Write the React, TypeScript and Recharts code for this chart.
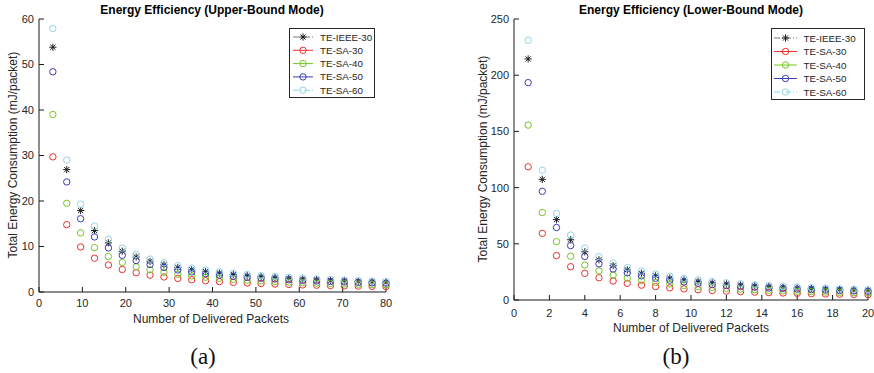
import React from "react";
import { ScatterChart, Scatter, XAxis, YAxis, Legend } from "recharts";

const FONT = '"Liberation Sans", Arial, Helvetica, sans-serif';
const INK = "#262626";

// (a) upper-bound mode
const upperX = [
  3.2, 6.4, 9.6, 12.8, 16, 19.2, 22.4, 25.6, 28.8, 32, 35.2, 38.4, 41.6, 44.8,
  48, 51.2, 54.4, 57.6, 60.8, 64, 67.2, 70.4, 73.6, 76.8, 80,
];
const upperIeee30 = [
  53.8, 26.9, 17.9, 13.5, 10.8, 8.97, 7.69, 6.73, 5.98, 5.38, 4.89, 4.48, 4.14,
  3.84, 3.59, 3.36, 3.16, 2.99, 2.83, 2.69, 2.56, 2.45, 2.34, 2.24, 2.15,
];
const upperSa30 = [
  29.7, 14.8, 9.9, 7.43, 5.94, 4.95, 4.24, 3.71, 3.3, 2.97, 2.7, 2.48, 2.28,
  2.12, 1.98, 1.86, 1.75, 1.65, 1.56, 1.49, 1.41, 1.35, 1.29, 1.24, 1.19,
];
const upperSa40 = [
  39, 19.5, 13, 9.75, 7.8, 6.5, 5.57, 4.88, 4.33, 3.9, 3.55, 3.25, 3.0, 2.79,
  2.6, 2.44, 2.29, 2.17, 2.05, 1.95, 1.86, 1.77, 1.7, 1.63, 1.56,
];
const upperSa50 = [
  48.4, 24.2, 16.1, 12.1, 9.68, 8.07, 6.91, 6.05, 5.38, 4.84, 4.4, 4.03, 3.72,
  3.46, 3.23, 3.03, 2.85, 2.69, 2.55, 2.42, 2.3, 2.2, 2.1, 2.02, 1.94,
];
const upperSa60 = [
  57.9, 29, 19.3, 14.5, 11.6, 9.65, 8.27, 7.24, 6.43, 5.79, 5.26, 4.83, 4.45,
  4.14, 3.86, 3.62, 3.41, 3.22, 3.05, 2.9, 2.76, 2.63, 2.52, 2.41, 2.32,
];

// (b) lower-bound mode
const lowerX = [
  0.8, 1.6, 2.4, 3.2, 4, 4.8, 5.6, 6.4, 7.2, 8, 8.8, 9.6, 10.4, 11.2, 12, 12.8,
  13.6, 14.4, 15.2, 16, 16.8, 17.6, 18.4, 19.2, 20,
];
const lowerIeee30 = [
  214.5, 107.3, 71.5, 53.6, 42.9, 35.8, 30.6, 26.8, 23.8, 21.5, 19.5, 17.9,
  16.5, 15.3, 14.3, 13.4, 12.6, 11.9, 11.3, 10.7, 10.2, 9.75, 9.33, 8.94, 8.58,
];
const lowerSa30 = [
  118.5, 59.3, 39.5, 29.6, 23.7, 19.8, 16.9, 14.8, 13.2, 11.9, 10.8, 9.88, 9.12,
  8.46, 7.9, 7.41, 6.97, 6.58, 6.24, 5.93, 5.64, 5.39, 5.15, 4.94, 4.74,
];
const lowerSa40 = [
  155.6, 77.8, 51.9, 38.9, 31.1, 25.9, 22.2, 19.5, 17.3, 15.6, 14.2, 13.0,
  12.0, 11.1, 10.4, 9.73, 9.15, 8.64, 8.19, 7.78, 7.41, 7.07, 6.77, 6.48, 6.22,
];
const lowerSa50 = [
  193.4, 96.7, 64.5, 48.4, 38.7, 32.2, 27.6, 24.2, 21.5, 19.3, 17.6, 16.1, 14.9,
  13.8, 12.9, 12.1, 11.4, 10.7, 10.2, 9.67, 9.21, 8.79, 8.41, 8.06, 7.74,
];
const lowerSa60 = [
  231, 115.5, 77, 57.8, 46.2, 38.5, 33, 28.9, 25.7, 23.1, 21, 19.3, 17.8, 16.5,
  15.4, 14.4, 13.6, 12.8, 12.2, 11.6, 11, 10.5, 10.0, 9.63, 9.24,
];

const upperXTicks = [0, 10, 20, 30, 40, 50, 60, 70, 80];
const upperYTicks = [0, 10, 20, 30, 40, 50, 60];
const lowerXTicks = [0, 2, 4, 6, 8, 10, 12, 14, 16, 18, 20];
const lowerYTicks = [0, 50, 100, 150, 200, 250];

const seriesNames = ["TE-IEEE-30", "TE-SA-30", "TE-SA-40", "TE-SA-50", "TE-SA-60"];
const seriesColors = ["#1e1e1e", "#ec3030", "#72c820", "#3c3cb8", "#8fd5ea"];
const legendLineColors = ["#7a7a7a", "#ec3030", "#72c820", "#3c3cb8", "#8fd5ea"];
const legendDash = ["6 2 1 2", undefined, undefined, undefined, "6 2 1 2"];

const toPoints = (xs: number[], ys: number[]) => xs.map((x, i) => ({ x, y: ys[i] }));

function StarMark({ cx, cy, color }: { cx: number; cy: number; color: string }) {
  const r = 3.6;
  const d = 2.6;
  return (
    <g stroke={color} strokeWidth={1}>
      <line x1={cx - r} y1={cy} x2={cx + r} y2={cy} />
      <line x1={cx} y1={cy - r} x2={cx} y2={cy + r} />
      <line x1={cx - d} y1={cy - d} x2={cx + d} y2={cy + d} />
      <line x1={cx - d} y1={cy + d} x2={cx + d} y2={cy - d} />
    </g>
  );
}

function mark(i: number, cx: number, cy: number) {
  if (i === 0) return <StarMark cx={cx} cy={cy} color={seriesColors[0]} />;
  return <circle cx={cx} cy={cy} r={3.2} fill="none" stroke={seriesColors[i]} strokeWidth={1} />;
}

// top and right axes only carry the inward tick marks of the box
const noLabel = () => <g />;

function LegendBox(p: {
  w: number;
  h: number;
  rowStart: number;
  rowStep: number;
  lineX1: number;
  lineX2: number;
  textX: number;
}) {
  const markX = (p.lineX1 + p.lineX2) / 2;
  return (
    <svg width={p.w} height={p.h} style={{ display: "block" }}>
      <rect x={0.5} y={0.5} width={p.w - 1} height={p.h - 1} fill="#fff" stroke={INK} />
      {seriesNames.map((name, i) => {
        const y = p.rowStart + i * p.rowStep;
        return (
          <g key={name}>
            <line
              x1={p.lineX1}
              x2={p.lineX2}
              y1={y}
              y2={y}
              stroke={legendLineColors[i]}
              strokeDasharray={legendDash[i]}
            />
            {mark(i, markX, y)}
            <text
              x={p.textX}
              y={y}
              dominantBaseline="central"
              fontSize={9.8}
              fontFamily={FONT}
              fill={INK}
            >
              {name}
            </text>
          </g>
        );
      })}
    </svg>
  );
}

type PanelProps = {
  left: number;
  xs: number[];
  ys: number[][];
  xMax: number;
  yMax: number;
  xTicks: number[];
  yTicks: number[];
  margin: { top: number; right: number; bottom: number; left: number };
  yAxisWidth: number;
  xTickMargin: number;
  legendAt: { left: number; top: number };
  legend: {
    w: number;
    h: number;
    rowStart: number;
    rowStep: number;
    lineX1: number;
    lineX2: number;
    textX: number;
  };
};

function Panel(p: PanelProps) {
  const tickStyle = { fill: INK, fontSize: 11, fontFamily: FONT };
  const axisStyle = { stroke: "#1a1a1a" };
  return (
    <div style={{ position: "absolute", left: p.left, top: 0 }}>
      <ScatterChart width={437} height={373} margin={p.margin}>
        <XAxis
          xAxisId="b"
          type="number"
          dataKey="x"
          domain={[0, p.xMax]}
          ticks={p.xTicks}
          interval={0}
          height={30}
          tickSize={-5}
          tickMargin={p.xTickMargin}
          tick={tickStyle}
          axisLine={axisStyle}
          tickLine={axisStyle}
        />
        <XAxis
          xAxisId="t"
          orientation="top"
          type="number"
          domain={[0, p.xMax]}
          allowDataOverflow
          ticks={p.xTicks}
          interval={0}
          height={0}
          tickSize={-5}
          tick={noLabel}
          axisLine={axisStyle}
          tickLine={axisStyle}
        />
        <YAxis
          yAxisId="l"
          type="number"
          dataKey="y"
          domain={[0, p.yMax]}
          ticks={p.yTicks}
          interval={0}
          width={p.yAxisWidth}
          tickSize={-5}
          tickMargin={10}
          tick={tickStyle}
          axisLine={axisStyle}
          tickLine={axisStyle}
        />
        <YAxis
          yAxisId="r"
          orientation="right"
          type="number"
          domain={[0, p.yMax]}
          allowDataOverflow
          ticks={p.yTicks}
          interval={0}
          width={0}
          tickSize={-5}
          tick={noLabel}
          axisLine={axisStyle}
          tickLine={axisStyle}
        />
        {p.ys.map((vals, i) => (
          <Scatter
            key={seriesNames[i]}
            name={seriesNames[i]}
            xAxisId="b"
            yAxisId="l"
            data={toPoints(p.xs, vals)}
            isAnimationActive={false}
            shape={(sp: any) => mark(i, sp.cx, sp.cy)}
          />
        ))}
        <Legend
          layout="vertical"
          align="center"
          verticalAlign="middle"
          wrapperStyle={{
            left: p.legendAt.left,
            top: p.legendAt.top,
            width: p.legend.w,
            height: p.legend.h,
          }}
          content={() => <LegendBox {...p.legend} />}
        />
      </ScatterChart>
    </div>
  );
}

function Label({
  x,
  y,
  text,
  size,
  bold,
  rotate,
  serif,
  color,
}: {
  x: number;
  y: number;
  text: string;
  size: number;
  bold?: boolean;
  rotate?: boolean;
  serif?: boolean;
  color?: string;
}) {
  return (
    <div
      style={{
        position: "absolute",
        left: x,
        top: y,
        transform: `translate(-50%, -50%)${rotate ? " rotate(-90deg)" : ""}`,
        whiteSpace: "nowrap",
        lineHeight: 1,
        fontSize: size,
        fontWeight: bold ? 700 : 400,
        fontFamily: serif ? '"Liberation Serif", "Times New Roman", serif' : FONT,
        color: color ?? INK,
      }}
    >
      {text}
    </div>
  );
}

export default function App() {
  return (
    <div
      style={{
        position: "absolute",
        left: 0,
        top: 0,
        width: 874,
        height: 373,
        background: "#fff",
        overflow: "hidden",
      }}
    >
      <Panel
        left={0}
        xs={upperX}
        ys={[upperIeee30, upperSa30, upperSa40, upperSa50, upperSa60]}
        xMax={80}
        yMax={60}
        xTicks={upperXTicks}
        yTicks={upperYTicks}
        margin={{ top: 19, right: 51, bottom: 51, left: 0 }}
        yAxisWidth={39}
        xTickMargin={12}
        legendAt={{ left: 289, top: 28 }}
        legend={{ w: 86, h: 70, rowStart: 9, rowStep: 13.3, lineX1: 4, lineX2: 24, textX: 31 }}
      />
      <Panel
        left={437}
        xs={lowerX}
        ys={[lowerIeee30, lowerSa30, lowerSa40, lowerSa50, lowerSa60]}
        xMax={20}
        yMax={250}
        xTicks={lowerXTicks}
        yTicks={lowerYTicks}
        margin={{ top: 19, right: 6, bottom: 43, left: 0 }}
        yAxisWidth={77}
        xTickMargin={14}
        legendAt={{ left: 334, top: 28 }}
        legend={{ w: 94, h: 72, rowStart: 10, rowStep: 13.5, lineX1: 3, lineX2: 26, textX: 32.5 }}
      />

      <Label x={212} y={10} text="Energy Efficiency (Upper-Bound Mode)" size={12} bold color="#000" />
      <Label x={691} y={10} text="Energy Efficiency (Lower-Bound Mode)" size={12} bold color="#000" />

      <Label x={12.5} y={155} text="Total Energy Consumption (mJ/packet)" size={12} rotate />
      <Label x={483} y={159} text="Total Energy Consumption (mJ/packet)" size={12} rotate />

      <Label x={211} y={319} text="Number of Delivered Packets" size={12} />
      <Label x={691} y={328} text="Number of Delivered Packets" size={12} />

      <Label x={203} y={356} text="(a)" size={23} serif color="#111" />
      <Label x={676} y={356} text="(b)" size={23} serif color="#111" />
    </div>
  );
}
